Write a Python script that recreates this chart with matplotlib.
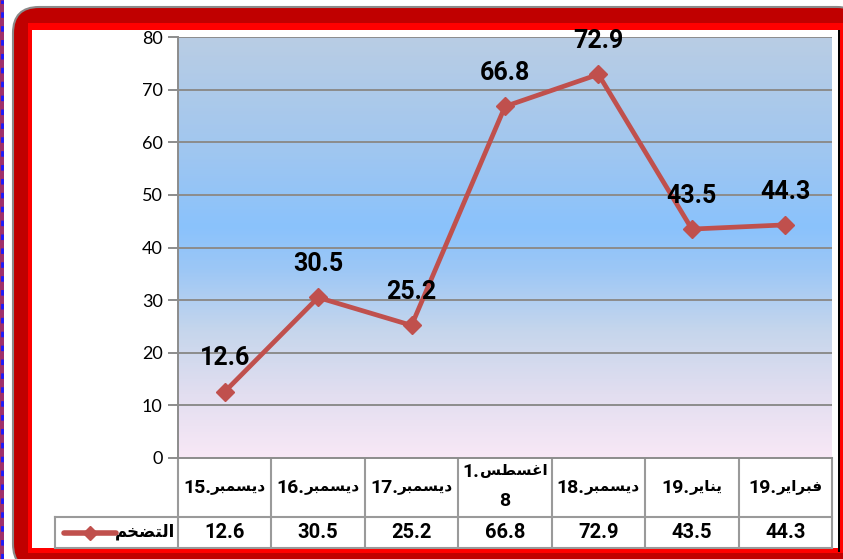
import numpy as np
import matplotlib
matplotlib.use("Agg")
import matplotlib.pyplot as plt
from matplotlib.patches import FancyBboxPatch, Rectangle
from matplotlib.lines import Line2D
from matplotlib.colors import LinearSegmentedColormap
from matplotlib.transforms import IdentityTransform

# data
months_ar = ["ديسمبر", "ديسمبر", "ديسمبر", "اغسطس", "ديسمبر", "يناير", "فبراير"]
years = ["15", "16", "17", "18", "18", "19", "19"]
inflation = [12.6, 30.5, 25.2, 66.8, 72.9, 43.5, 44.3]
series_name = "التضخم"
yticks = [0, 10, 20, 30, 40, 50, 60, 70, 80]

# simple arabic shaping (presentation forms B), returns visual order
FORMS = {
    "ا": ("\uFE8D", "\uFE8E", None, None),
    "ب": ("\uFE8F", "\uFE90", "\uFE91", "\uFE92"),
    "ت": ("\uFE95", "\uFE96", "\uFE97", "\uFE98"),
    "خ": ("\uFEA5", "\uFEA6", "\uFEA7", "\uFEA8"),
    "د": ("\uFEA9", "\uFEAA", None, None),
    "ر": ("\uFEAD", "\uFEAE", None, None),
    "س": ("\uFEB1", "\uFEB2", "\uFEB3", "\uFEB4"),
    "ض": ("\uFEBD", "\uFEBE", "\uFEBF", "\uFEC0"),
    "ط": ("\uFEC1", "\uFEC2", "\uFEC3", "\uFEC4"),
    "غ": ("\uFECD", "\uFECE", "\uFECF", "\uFED0"),
    "ف": ("\uFED1", "\uFED2", "\uFED3", "\uFED4"),
    "ل": ("\uFEDD", "\uFEDE", "\uFEDF", "\uFEE0"),
    "م": ("\uFEE1", "\uFEE2", "\uFEE3", "\uFEE4"),
    "ن": ("\uFEE5", "\uFEE6", "\uFEE7", "\uFEE8"),
    "ي": ("\uFEF1", "\uFEF2", "\uFEF3", "\uFEF4"),
}


def shape(word):
    out = []
    for i, ch in enumerate(word):
        f = FORMS[ch]
        prev_joins = i > 0 and FORMS[word[i - 1]][2] is not None
        next_joins = i < len(word) - 1 and f[2] is not None
        if prev_joins and next_joins:
            g = f[3]
        elif prev_joins:
            g = f[1]
        elif next_joins:
            g = f[2]
        else:
            g = f[0]
        out.append(g)
    return "".join(out[::-1])


W, H = 843, 559
fig = plt.figure(figsize=(W / 100, H / 100), dpi=100)
fig.patch.set_facecolor("white")
renderer = fig.canvas.get_renderer()


def add_rect(x0, y0, x1, y1, **kw):
    r = Rectangle((x0, H - y1), x1 - x0, y1 - y0, transform=IdentityTransform(),
                  zorder=-10, **kw)
    fig.patches.append(r)


# frame
outer = FancyBboxPatch((13, H - 570), 850, 563, boxstyle="round,pad=0,rounding_size=26",
                       transform=IdentityTransform(), facecolor="#c00000",
                       edgecolor="#8a8a8a", linewidth=1.5, zorder=-11)
fig.patches.append(outer)
add_rect(28, 23, 845, 553, facecolor="#ff0000", edgecolor="none")
add_rect(32, 30, 840, 548, facecolor="white", edgecolor="none")
add_rect(838, 30, 840, 552, facecolor="black", edgecolor="none")
add_rect(0, 0, 4, 559, facecolor="#a0306a", edgecolor="none")
fig.lines.append(Line2D([2, 2], [0, H], transform=IdentityTransform(), color="#1a1aff",
                        lw=2, linestyle=(0, (2, 3)), zorder=-9))

NUM = ["Roboto", "DejaVu Sans"]

# plot area
L, R, T, B = 178, 832, 37, 458
ax = fig.add_axes([L / W, 1 - B / H, (R - L) / W, (B - T) / H])
ax.set_zorder(5)
ax.patch.set_alpha(0)
n = len(inflation)
x = np.arange(n)

cmap = LinearSegmentedColormap.from_list("bg", [
    (0.0, "#f8e8f6"), (0.15, "#e2def0"), (0.3, "#c6d6ec"), (0.45, "#9cc7f6"),
    (0.55, "#8ac2fc"), (0.75, "#a2c7ef"), (1.0, "#b9cde4")])
grad = np.linspace(0, 1, 256).reshape(-1, 1)
ax.imshow(grad, extent=(-0.5, n - 0.5, 0, 80), origin="lower", aspect="auto",
          cmap=cmap, zorder=0)

ax.set_xlim(-0.5, n - 0.5)
ax.set_ylim(0, 80)
ax.set_yticks(yticks)
for v in yticks[1:]:
    ax.axhline(v, color="#8c8c8c", lw=1.4, zorder=1)

ax.plot(x, inflation, color="#c0504d", lw=3.4, marker="D", markersize=9,
        markerfacecolor="#c0504d", markeredgecolor="#c0504d", zorder=3, clip_on=False)
for xi, v in zip(x, inflation):
    ax.annotate(f"{v}", (xi, v), xytext=(0, 24), textcoords="offset points",
                ha="center", va="center", fontsize=18, fontweight="bold",
                family=NUM, zorder=4, annotation_clip=False)

for s in ["top", "right"]:
    ax.spines[s].set_visible(False)
ax.spines["left"].set_color("#8c8c8c")
ax.spines["left"].set_linewidth(1.4)
ax.spines["bottom"].set_color("#8c8c8c")
ax.spines["bottom"].set_linewidth(1.4)
ax.tick_params(axis="y", length=7, width=1.4, color="#8c8c8c", labelsize=13, pad=4)
ax.tick_params(axis="x", bottom=False, labelbottom=False)
ax.set_xticks([])
for lab in ax.get_yticklabels():
    lab.set_family(["Lato", "DejaVu Sans"])

# data table
row1, row2 = 517, 548
cw = (R - L) / n
gc = "#9a9a9a"
lines = []
for i in range(n + 1):
    xx = L + i * cw
    lines.append(([xx, xx], [B, row2]))
lines.append(([55, 55], [row1, row2]))
lines.append(([55, R], [row1, row1]))
lines.append(([55, R], [row2, row2]))
for xs, ys in lines:
    fig.lines.append(Line2D(xs, [H - y for y in ys], transform=IdentityTransform(),
                            color=gc, lw=1.5))


def pair_label(cx, cy, digits, word):
    # digits on the left, arabic word on the right, centred together
    t1 = fig.text(0, 1 - cy / H, digits, fontsize=14, fontweight="bold", family=NUM,
                  ha="left", va="center")
    t2 = fig.text(0, 1 - cy / H + 0.002, shape(word), fontsize=11, fontweight="bold",
                  family="DejaVu Sans", ha="left", va="center")
    w1 = t1.get_window_extent(renderer).width
    w2 = t2.get_window_extent(renderer).width
    start = cx - (w1 + w2) / 2
    t1.set_x(start / W)
    t2.set_x((start + w1) / W)


tf = dict(fontsize=14.5, fontweight="bold", family=NUM, ha="center", va="center")
for i in range(n):
    cx = L + (i + 0.5) * cw
    if months_ar[i] == "اغسطس":
        pair_label(cx, 472, "1.", months_ar[i])
        fig.text(cx / W, 1 - 501 / H, "8", fontsize=14, fontweight="bold", family=NUM,
                 ha="center", va="center")
    else:
        pair_label(cx, 488, years[i] + ".", months_ar[i])
    fig.text(cx / W, 1 - 533 / H, f"{inflation[i]}", **tf)

# legend key in table
fig.lines.append(Line2D([64, 116], [H - 533, H - 533], transform=IdentityTransform(),
                        color="#c0504d", lw=4, solid_capstyle="round"))
fig.lines.append(Line2D([90], [H - 533], transform=IdentityTransform(), color="#c0504d",
                        marker="D", markersize=7))
fig.text(145 / W, 1 - 532 / H, shape(series_name), fontsize=12, fontweight="bold",
         family="DejaVu Sans", ha="center", va="center")

fig.savefig("out.png", dpi=100)
